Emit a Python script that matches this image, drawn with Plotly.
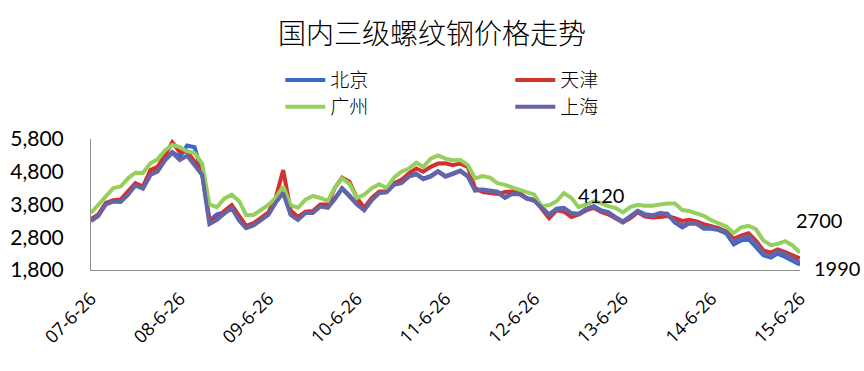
import pandas as pd
import plotly.graph_objects as go

# ---------------- data ----------------
dates = pd.date_range("2007-06-26", periods=97, freq=pd.DateOffset(months=1))

beijing = [3320, 3470, 3820, 3900, 3900, 4120, 4400, 4300, 4720, 4830,
           5180, 5400, 5250, 5600, 5550, 4750, 3300, 3500, 3560, 3700,
           3350, 3100, 3180, 3350, 3500, 3880, 4220, 3500, 3350, 3560,
           3560, 3760, 3720, 3980, 4300, 4080, 3820, 3640, 3950, 4170,
           4180, 4420, 4470, 4670, 4740, 4590, 4670, 4820, 4670, 4750,
           4840, 4670, 4240, 4260, 4230, 4190, 4020, 4140, 4130, 4000,
           3930, 3720, 3500, 3670, 3700, 3540, 3520, 3670, 3750, 3630,
           3570, 3420, 3280, 3440, 3610, 3500, 3470, 3540, 3520, 3250,
           3100, 3220, 3210, 3060, 3060, 3020, 2920, 2580, 2700, 2750,
           2500, 2250, 2180, 2300, 2200, 2080, 1960]

tianjin = [3350, 3500, 3850, 3930, 3950, 4200, 4450, 4350, 4850, 4950,
           5300, 5700, 5400, 5420, 5100, 4800, 3350, 3350, 3600, 3780,
           3450, 3150, 3230, 3400, 3560, 4000, 4850, 3620, 3420, 3580,
           3600, 3800, 3800, 4300, 4620, 4500, 4000, 3700, 4000, 4200,
           4200, 4450, 4550, 4750, 4900, 4800, 4950, 5050, 5060, 5000,
           5050, 4950, 4300, 4180, 4150, 4120, 4180, 4200, 4150, 3980,
           3950, 3650, 3380, 3620, 3580, 3420, 3500, 3620, 3700, 3580,
           3500, 3380, 3250, 3380, 3560, 3430, 3400, 3420, 3450, 3380,
           3300, 3330, 3280, 3200, 3150, 3080, 2980, 2750, 2850, 2920,
           2700, 2400, 2330, 2430, 2350, 2250, 2150]

guangzhou = [3540, 3780, 4050, 4300, 4350, 4600, 4770, 4760, 5060, 5180,
             5450, 5620, 5550, 5420, 5370, 5050, 3800, 3720, 3980, 4100,
             3900, 3480, 3480, 3650, 3790, 4000, 4350, 3780, 3700, 3950,
             4060, 4000, 3910, 4300, 4600, 4430, 4000, 4100, 4300, 4420,
             4300, 4620, 4800, 4900, 5080, 4950, 5200, 5300, 5200, 5150,
             5160, 5000, 4600, 4670, 4620, 4450, 4400, 4320, 4240, 4160,
             4100, 3750, 3780, 3900, 4150, 4000, 3720, 3800, 3900, 3850,
             3750, 3700, 3560, 3720, 3790, 3760, 3760, 3800, 3830, 3830,
             3630, 3600, 3530, 3450, 3320, 3230, 3130, 2930, 3100, 3150,
             3050, 2700, 2560, 2600, 2680, 2550, 2330]

shanghai = [3295, 3450, 3800, 3890, 3880, 4100, 4380, 4280, 4700, 4800,
            5150, 5380, 5160, 5290, 5000, 4700, 3200, 3330, 3520, 3690,
            3300, 3080, 3160, 3330, 3480, 3850, 4150, 3480, 3330, 3540,
            3540, 3740, 3700, 3950, 4280, 4050, 3800, 3620, 3930, 4150,
            4170, 4400, 4450, 4650, 4720, 4570, 4650, 4800, 4650, 4730,
            4820, 4650, 4220, 4240, 4210, 4170, 4000, 4120, 4110, 3980,
            3910, 3700, 3480, 3650, 3680, 3520, 3500, 3650, 3730, 3610,
            3550, 3400, 3260, 3420, 3590, 3480, 3450, 3520, 3500, 3280,
            3150, 3240, 3230, 3080, 3080, 3040, 2950, 2650, 2780, 2830,
            2600, 2300, 2230, 2380, 2280, 2150, 2020]

series_names = ["北京", "天津", "广州", "上海"]
series_values = [beijing, tianjin, guangzhou, shanghai]
series_colors = ["#3868CC", "#D3302E", "#95CF5C", "#6564A6"]
series_legend = ["legend", "legend", "legend2", "legend2"]

tick_dates = ["2007-06-26", "2008-06-26", "2009-06-26", "2010-06-26", "2011-06-26",
              "2012-06-26", "2013-06-26", "2014-06-26", "2015-06-26"]
tick_text = ["07-6-26", "08-6-26", "09-6-26", "10-6-26", "11-6-26",
             "12-6-26", "13-6-26", "14-6-26", "15-6-26"]
y_ticks = [1800, 2800, 3800, 4800, 5800]

title_text = "国内三级螺纹钢价格走势"
label_texts = ["4120", "2700", "1990"]

# ---------------- figure ----------------
CJK = "Noto Sans CJK SC"
NUM = "Lato"

fig = go.Figure()
for name, vals, col, lg in zip(series_names, series_values, series_colors, series_legend):
    fig.add_trace(go.Scatter(
        x=dates, y=vals, name=name, mode="lines",
        line=dict(color=col, width=4),
        legend=lg,
    ))

legend_common = dict(
    orientation="h", xanchor="left", yanchor="middle",
    font=dict(family=CJK, size=19, color="#000000", weight=300),
    entrywidth=175, entrywidthmode="pixels",
    bgcolor="rgba(0,0,0,0)", itemwidth=40,
    tracegroupgap=0,
)

fig.update_layout(
    width=864, height=371,
    paper_bgcolor="white", plot_bgcolor="white",
    margin=dict(l=91, r=64, t=139, b=101, autoexpand=False),
    title=dict(text=title_text, x=0.5, xanchor="center", y=0.908, yanchor="middle",
               font=dict(family=CJK, size=28, color="#000000", weight=300)),
    showlegend=True,
    legend=dict(x=0.267, y=1.45, **legend_common),
    legend2=dict(x=0.267, y=1.245, **legend_common),
    xaxis=dict(
        type="date",
        range=["2007-06-26", "2015-06-26"],
        tickvals=tick_dates, ticktext=tick_text,
        tickangle=-45,
        tickfont=dict(family="Open Sans", size=18, color="#000000"),
        showline=True, linecolor="#8C8C8C", linewidth=1,
        showgrid=False, zeroline=False, ticks="",
        ticklabelstandoff=10,
        automargin=False,
    ),
    yaxis=dict(
        range=[1800, 5800],
        tickvals=y_ticks, tickformat=",d",
        tickfont=dict(family=NUM, size=21, color="#000000"),
        showline=True, linecolor="#8C8C8C", linewidth=1,
        showgrid=False, zeroline=False, ticks="",
        ticklabelstandoff=22,
        automargin=False,
    ),
)

ann_pos = [(0.719, 0.573), (1.027, 0.382), (1.052, 0.015)]
for txt, (ax, ay) in zip(label_texts, ann_pos):
    fig.add_annotation(text=txt, x=ax, y=ay, xref="paper", yref="paper",
                       showarrow=False, xanchor="center", yanchor="middle",
                       font=dict(family=NUM, size=20, color="#000000"))

fig.write_html("out.html",
               config={"displayModeBar": False},
               post_script="document.body.style.margin='0';document.body.style.padding='0';")
